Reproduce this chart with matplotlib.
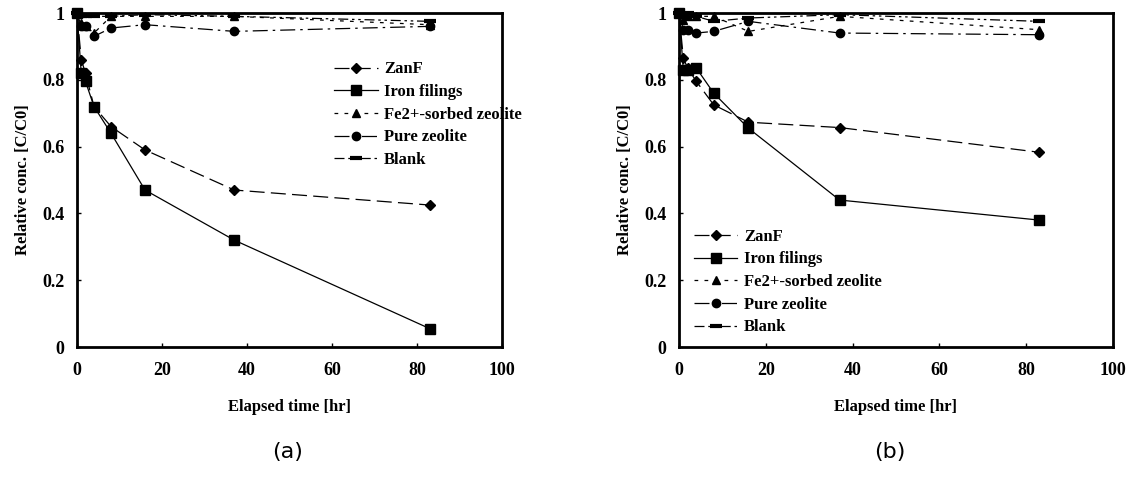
import numpy as np
import matplotlib.pyplot as plt
from matplotlib.ticker import FuncFormatter

# elapsed time [hr]
t = [0, 1, 2, 4, 8, 16, 37, 83]

# panel (a)
zanf_a = [1.0, 0.86, 0.82, 0.72, 0.66, 0.59, 0.47, 0.425]
iron_a = [1.0, 0.82, 0.795, 0.72, 0.64, 0.47, 0.32, 0.055]
fe2_a = [1.0, 0.97, 0.96, 0.94, 0.99, 0.99, 0.99, 0.965]
pure_a = [1.0, 0.96, 0.96, 0.93, 0.955, 0.965, 0.945, 0.96]
blank_a = [1.0, 0.99, 0.99, 0.99, 0.99, 0.995, 0.99, 0.975]

# panel (b)
zanf_b = [1.0, 0.865, 0.835, 0.795, 0.725, 0.673, 0.657, 0.583]
iron_b = [1.0, 0.83, 0.83, 0.835, 0.76, 0.655, 0.44, 0.38]
fe2_b = [1.0, 0.98, 0.99, 0.99, 0.99, 0.945, 0.99, 0.95]
pure_b = [1.0, 0.95, 0.95, 0.94, 0.945, 0.975, 0.94, 0.935]
blank_b = [1.0, 0.99, 1.0, 0.99, 0.975, 0.985, 0.995, 0.975]

labels = ['ZanF', 'Iron filings', 'Fe2+-sorbed zeolite', 'Pure zeolite', 'Blank']
styles = [
    dict(marker='D', ms=5, ls=(0, (12, 5)), lw=0.9),
    dict(marker='s', ms=7, ls='-', lw=0.9),
    dict(marker='^', ms=6, ls=(0, (3, 5)), lw=0.9),
    dict(marker='o', ms=6, ls=(0, (12, 4, 2, 4)), lw=0.9),
    dict(marker='_', ms=9, mew=3, ls=(0, (8, 3, 2, 3, 2, 3)), lw=0.9),
]

serif = 'Liberation Serif'
plt.rcParams['font.family'] = serif
plt.rcParams['font.weight'] = 'bold'

fig = plt.figure(figsize=(11.48, 4.83), dpi=100)
W, H = 1148, 483
ax_a = fig.add_axes([77 / W, 1 - 347 / H, (502 - 77) / W, (347 - 13) / H])
ax_b = fig.add_axes([679 / W, 1 - 347 / H, (1113 - 679) / W, (347 - 13) / H])


def fmt(v, pos):
    if abs(v) < 1e-9:
        return '0'
    if abs(v - 1) < 1e-9:
        return '1'
    return '%.1f' % v


def draw(ax, series, leg_loc, leg_anchor):
    for y, lab, st in zip(series, labels, styles):
        ax.plot(t, y, color='black', label=lab, clip_on=False, **st)
    ax.set_xlim(0, 100)
    ax.set_ylim(0, 1)
    ax.set_xticks(np.arange(0, 101, 20))
    ax.set_yticks(np.arange(0, 1.01, 0.2))
    ax.yaxis.set_major_formatter(FuncFormatter(fmt))
    ax.tick_params(direction='in', length=3, width=1, labelsize=13)
    ax.tick_params(axis='x', pad=11)
    ax.tick_params(axis='y', pad=9)
    for lab in ax.get_xticklabels() + ax.get_yticklabels():
        lab.set_fontweight('bold')
    for s in ax.spines.values():
        s.set_linewidth(2)
    ax.set_xlabel('Elapsed time [hr]', fontsize=12, fontweight='bold', labelpad=14)
    ax.set_ylabel('Relative conc. [C/C0]', fontsize=12, fontweight='bold', labelpad=8)
    ax.legend(loc=leg_loc, bbox_to_anchor=leg_anchor, frameon=False,
              prop={'family': serif, 'weight': 'bold', 'size': 12},
              handlelength=2.6, labelspacing=0.4, handletextpad=0.4)


draw(ax_a, [zanf_a, iron_a, fe2_a, pure_a, blank_a], 'upper left', (0.57, 0.9))
draw(ax_b, [zanf_b, iron_b, fe2_b, pure_b, blank_b], 'lower left', (0.0, -0.01))

fig.text(288 / W, 1 - 452 / H, '(a)', ha='center', va='center', fontsize=16,
         family='DejaVu Sans', fontweight='normal')
fig.text(890 / W, 1 - 452 / H, '(b)', ha='center', va='center', fontsize=16,
         family='DejaVu Sans', fontweight='normal')

fig.savefig('out.png', dpi=100)
